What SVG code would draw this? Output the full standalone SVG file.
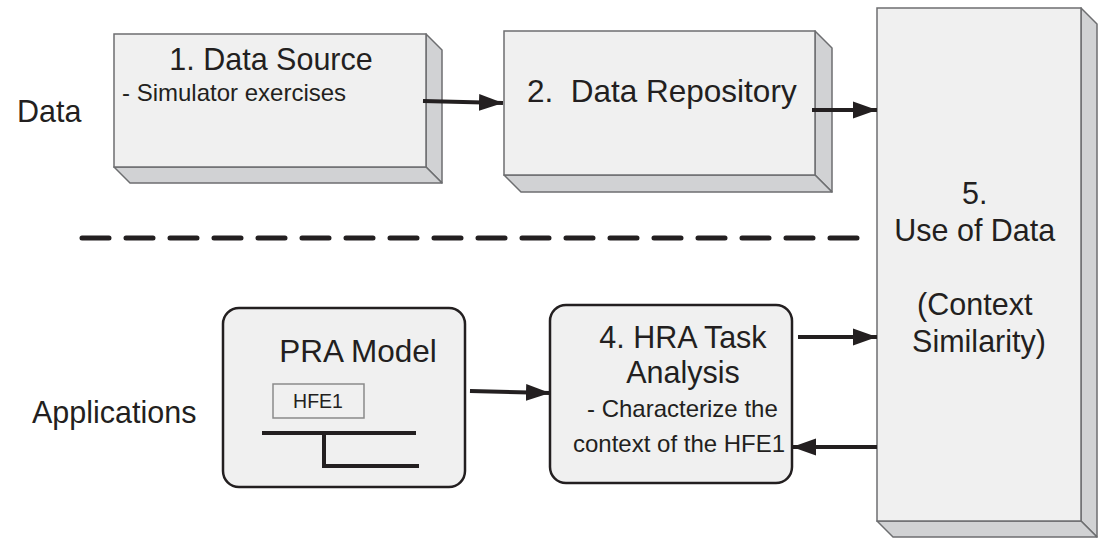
<svg xmlns="http://www.w3.org/2000/svg" width="1099" height="546" viewBox="0 0 1099 546">
<style>
text{font-family:"Liberation Sans",Arial,sans-serif;fill:#231f20}
.face{fill:#f0f0f0;stroke:#6d6e70;stroke-width:1.5}
.side{fill:#d1d2d4;stroke:#6d6e70;stroke-width:1.5;stroke-linejoin:round}
.rbox{fill:#f0f0f0;stroke:#231f20;stroke-width:2.5}
.conn{stroke:#231f20;stroke-width:4;fill:none}
.t30{font-size:30.5px}
.t24{font-size:24px}
</style>
<defs>
<marker id="ah" markerUnits="userSpaceOnUse" markerWidth="25" markerHeight="20" refX="24" refY="10" orient="auto">
<path d="M0,1.5 L24,10 L0,18.5 Z" fill="#231f20"/>
</marker>
</defs>
<rect width="1099" height="546" fill="#ffffff"/>
<text class="t30" x="17" y="122">Data</text>
<text class="t30" x="32" y="423">Applications</text>
<g id="node1">
<polygon class="side" points="426,34 442,50 442,183 426,167"/>
<polygon class="side" points="114,167 130,183 442,183 426,167"/>
<rect class="face" x="114" y="34" width="312" height="133"/>
<text class="t30" x="271" y="70" text-anchor="middle">1. Data Source</text>
<text class="t24" x="122" y="101">- Simulator exercises</text>
</g>
<g id="node2">
<polygon class="side" points="815,31 832,48 832,192 815,175"/>
<polygon class="side" points="504,175 521,192 832,192 815,175"/>
<rect class="face" x="504" y="31" width="311" height="144"/>
<text x="527" y="102" font-size="31.5" xml:space="preserve">2.  Data Repository</text>
</g>
<g id="node5">
<polygon class="side" points="1081,8 1097,24 1097,537 1081,521"/>
<polygon class="side" points="877,521 893,537 1097,537 1081,521"/>
<rect class="face" x="877" y="8" width="204" height="513"/>
<text class="t30" text-anchor="middle">
<tspan x="979" y="204">5.</tspan>
<tspan x="979" y="241">Use of Data</tspan>
<tspan x="979" y="315">(Context</tspan>
<tspan x="979" y="352">Similarity)</tspan>
</text>
</g>
<g id="node3">
<rect class="rbox" x="223" y="308" width="242" height="179" rx="16"/>
<text x="358" y="362" text-anchor="middle" font-size="31.5">PRA Model</text>
<rect x="273" y="384" width="91" height="34" fill="#f0f0f0" stroke="#8a8a8a" stroke-width="1.5"/>
<text x="318" y="408" text-anchor="middle" font-size="19.5">HFE1</text>
<path d="M262,433 H416 M324,433 V466 H419" stroke="#231f20" stroke-width="4" fill="none"/>
</g>
<g id="node4">
<rect class="rbox" x="550" y="305" width="242" height="178" rx="16"/>
<text class="t30" x="683" y="348" text-anchor="middle">4. HRA Task</text>
<text class="t30" x="683" y="383" text-anchor="middle">Analysis</text>
<text class="t24" x="587" y="417">- Characterize the</text>
<text class="t24" x="573" y="452">context of the HFE1</text>
</g>
<line x1="82" y1="238" x2="862" y2="238" stroke="#231f20" stroke-width="5" stroke-dasharray="27 17" stroke-linecap="round"/>
<g id="connectors">
<line class="conn" x1="423" y1="101" x2="503" y2="103" marker-end="url(#ah)"/>
<line class="conn" x1="812" y1="110" x2="877" y2="110" marker-end="url(#ah)"/>
<line class="conn" x1="470" y1="391" x2="550" y2="393" marker-end="url(#ah)"/>
<line class="conn" x1="798" y1="337" x2="877" y2="337" marker-end="url(#ah)"/>
<line class="conn" x1="877" y1="447" x2="792" y2="447" marker-end="url(#ah)"/>
</g>
</svg>
